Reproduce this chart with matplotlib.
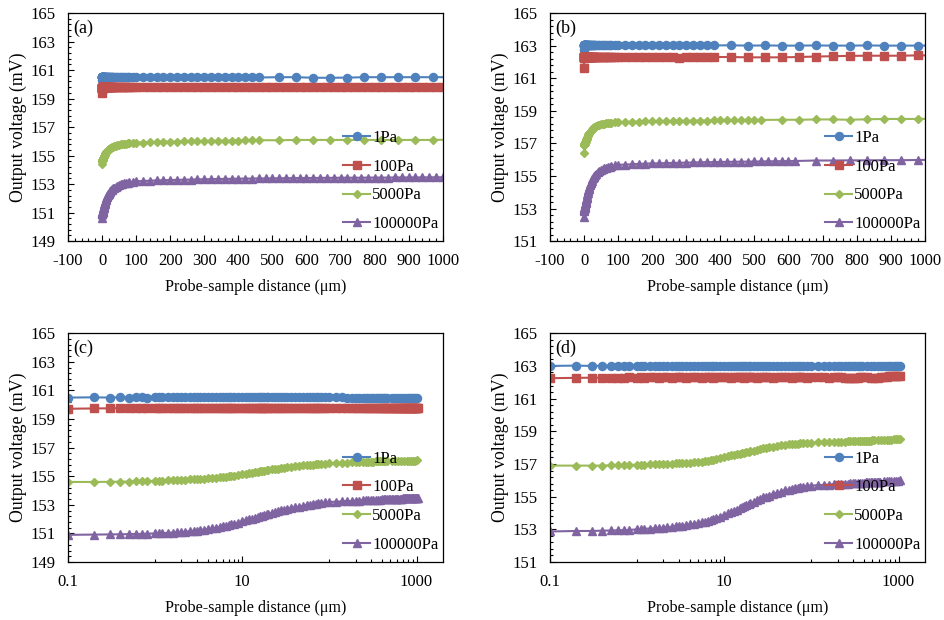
import matplotlib
matplotlib.use('Agg')
import matplotlib.pyplot as plt
from matplotlib.ticker import MultipleLocator, FixedLocator, FixedFormatter, NullFormatter
import numpy as np

plt.rcParams['font.family'] = ['Liberation Serif', 'DejaVu Serif']
plt.rcParams['axes.unicode_minus'] = False

# probe-sample distance samples (um)
X_NEAR = [0,
          0.1, 0.2, 0.3, 0.4, 0.5, 0.6, 0.7, 0.8,
          1, 1.1, 1.2, 1.4, 1.6, 1.8, 2, 2.2, 2.5, 2.8, 3, 3.3, 3.6, 4, 4.5,
          5, 5.5, 6, 6.5, 7, 7.5, 8, 9, 10,
          11, 12, 13, 14, 15, 16, 17, 18, 19, 20,
          22, 24, 26, 28, 30, 33, 36, 40, 45, 50, 55, 60,
          65, 70, 75, 80, 90, 100]
X_FAR = [120, 140, 160, 180, 200, 220, 240, 260, 280, 300,
         320, 340, 360, 380, 400, 420, 440, 460, 480, 500,
         520, 540, 560, 580, 600, 620, 640, 660, 680, 700,
         720, 740, 760, 780, 800, 820, 840, 860, 880, 900,
         920, 940, 960, 980, 1000, 1020, 1040]
TAIL_A = [520, 570, 620, 670, 720, 770, 820, 870, 920, 970, 1020]
TAIL_B_LOW = [430, 480, 530, 580, 630, 680, 730, 780, 830, 880, 930, 980, 1030]
TAIL_B_5000 = [580, 630, 680, 730, 780, 830, 880, 930, 980, 1030]
TAIL_B_1E5 = [680, 730, 780, 830, 880, 930, 980, 1030]

# ---- condition A: panels (a) and (c), output voltage (mV) ----
A_1PA = ([160.3,
          160.5, 160.52, 160.5, 160.52, 160.5, 160.51, 160.52, 160.5,
          160.52, 160.51, 160.53, 160.52, 160.52, 160.53, 160.51, 160.52, 160.53, 160.52,
          160.53, 160.52, 160.52, 160.53, 160.52,
          160.53, 160.52, 160.53, 160.52, 160.52, 160.53, 160.52, 160.53, 160.52,
          160.52, 160.53, 160.52, 160.53, 160.52, 160.52, 160.53, 160.52, 160.53, 160.52,
          160.53, 160.52, 160.52, 160.53, 160.52, 160.53, 160.52, 160.52, 160.53, 160.52,
          160.52, 160.53,
          160.52, 160.52, 160.53, 160.52, 160.52, 160.53]
         + [160.52, 160.51, 160.5, 160.5, 160.5, 160.49, 160.5, 160.5, 160.49,
            160.5, 160.5, 160.49, 160.5, 160.5, 160.49, 160.5, 160.48, 160.48]
         + [160.5, 160.5, 160.46, 160.46, 160.47, 160.5, 160.5, 160.5, 160.5,
            160.5, 160.5])
A_100PA = ([159.4,
            159.72, 159.74, 159.75, 159.76, 159.75, 159.76, 159.77, 159.76,
            159.77, 159.76, 159.77, 159.78, 159.77, 159.78, 159.77, 159.78, 159.78, 159.77,
            159.78, 159.78, 159.77, 159.78, 159.78,
            159.79, 159.78, 159.79, 159.78, 159.79, 159.78, 159.79, 159.79, 159.78,
            159.79, 159.79, 159.8, 159.79, 159.79, 159.8, 159.79, 159.8, 159.79, 159.8,
            159.79, 159.8, 159.79, 159.8, 159.79, 159.8, 159.79, 159.8, 159.79, 159.8,
            159.79, 159.8,
            159.79, 159.8, 159.79, 159.8, 159.79, 159.8]
           + [159.79, 159.8, 159.8, 159.79, 159.8, 159.8, 159.8, 159.79, 159.8, 159.8,
              159.8, 159.79, 159.8, 159.8, 159.8, 159.79, 159.8, 159.8, 159.8, 159.8,
              159.79, 159.8, 159.8, 159.8, 159.79, 159.8, 159.8, 159.8, 159.8, 159.79,
              159.8, 159.8, 159.8, 159.8, 159.79, 159.8, 159.8, 159.8, 159.78, 159.78,
              159.8, 159.8, 159.8, 159.8, 159.8, 159.8, 159.8])
A_5000PA = ([154.4,
             154.6, 154.6, 154.61, 154.62, 154.63, 154.64, 154.65, 154.66,
             154.68, 154.69, 154.7, 154.71, 154.72, 154.74, 154.75, 154.76, 154.78, 154.79,
             154.8, 154.82, 154.84, 154.86, 154.88,
             154.9, 154.93, 154.95, 154.98, 155.0, 155.03, 155.05, 155.1, 155.15,
             155.19, 155.23, 155.26, 155.3, 155.32, 155.35, 155.38, 155.4, 155.43, 155.45,
             155.48, 155.51, 155.54, 155.57, 155.6, 155.63, 155.66, 155.7, 155.73, 155.76,
             155.78, 155.8,
             155.82, 155.83, 155.85, 155.86, 155.88, 155.9]
            + [155.92, 155.94, 155.96, 155.97, 155.98, 155.99, 156.0, 156.0, 156.01,
               156.02, 156.03, 156.04, 156.05, 156.05, 156.06, 156.07, 156.07, 156.08]
            + [156.08, 156.1, 156.1, 156.1, 156.1, 156.1, 156.1, 156.1, 156.1,
               156.1, 156.12])
A_1E5PA = ([150.6,
            150.9, 150.92, 150.93, 150.94, 150.95, 150.96, 150.97, 150.98,
            151.0, 151.01, 151.02, 151.04, 151.06, 151.08, 151.1, 151.12, 151.15, 151.18,
            151.2, 151.23, 151.26, 151.3, 151.35,
            151.4, 151.45, 151.5, 151.55, 151.6, 151.64, 151.68, 151.75, 151.85,
            151.92, 151.98, 152.04, 152.1, 152.15, 152.2, 152.25, 152.3, 152.34, 152.38,
            152.45, 152.51, 152.56, 152.61, 152.65, 152.7, 152.75, 152.82, 152.88, 152.93,
            152.98, 153.02,
            153.05, 153.08, 153.11, 153.13, 153.17, 153.2]
           + [153.22, 153.24, 153.26, 153.27, 153.29, 153.3, 153.31, 153.32, 153.33, 153.34,
              153.35, 153.36, 153.37, 153.37, 153.38, 153.39, 153.39, 153.4, 153.4, 153.41,
              153.41, 153.42, 153.42, 153.43, 153.43, 153.43, 153.44, 153.44, 153.44, 153.45,
              153.45, 153.45, 153.45, 153.46, 153.46, 153.46, 153.46, 153.47, 153.47, 153.47,
              153.47, 153.47, 153.48, 153.48, 153.48, 153.48, 153.48])

# ---- condition B: panels (b) and (d) ----
B_1PA = ([162.75,
          163.0, 163.02, 163.0, 163.01, 163.02, 163.0, 163.01, 163.02,
          163.01, 163.02, 163.01, 163.02, 163.02, 163.01, 163.02, 163.02, 163.01, 163.02,
          163.02, 163.01, 163.02, 163.02, 163.01,
          163.02, 163.02, 163.01, 163.02, 163.02, 163.01, 163.02, 163.02, 163.01,
          163.02, 163.02, 163.01, 163.02, 163.02, 163.01, 163.02, 163.02, 163.01, 163.02,
          163.02, 163.01, 163.02, 163.02, 163.01, 163.02, 163.02, 163.01, 163.02, 163.02,
          163.01, 163.02,
          163.02, 163.01, 163.02, 163.02, 163.01, 163.02]
         + [163.02, 163.01, 163.02, 163.02, 163.01, 163.02, 163.02, 163.01, 163.02,
            163.02, 163.01, 163.02, 163.02, 163.01]
         + [163.02, 163.0, 163.01, 163.0, 163.0, 163.01, 163.0, 163.0, 163.01,
            163.0, 163.0, 163.0, 163.0])
B_100PA = ([161.6,
            162.25, 162.27, 162.28, 162.28, 162.29, 162.28, 162.29, 162.3,
            162.29, 162.3, 162.29, 162.3, 162.3, 162.29, 162.3, 162.3, 162.29, 162.3,
            162.3, 162.3, 162.29, 162.3, 162.3,
            162.3, 162.29, 162.3, 162.3, 162.3, 162.29, 162.3, 162.3, 162.3,
            162.3, 162.29, 162.3, 162.3, 162.3, 162.3, 162.29, 162.3, 162.3, 162.3,
            162.3, 162.29, 162.3, 162.3, 162.3, 162.3, 162.29, 162.3, 162.3, 162.3,
            162.3, 162.29,
            162.3, 162.3, 162.3, 162.3, 162.29, 162.3]
           + [162.3, 162.3, 162.29, 162.3, 162.3, 162.3, 162.29, 162.28, 162.27,
              162.28, 162.28, 162.29, 162.3, 162.3]
           + [162.3, 162.28, 162.28, 162.28, 162.3, 162.33, 162.35, 162.37, 162.38,
              162.38, 162.38, 162.4, 162.4])
B_5000PA = ([156.4,
             156.9, 156.9, 156.9, 156.9, 156.92, 156.93, 156.94, 156.94,
             156.95, 156.95, 156.96, 156.97, 156.98, 156.99, 157.0, 157.01, 157.02, 157.03,
             157.04, 157.05, 157.06, 157.08, 157.1,
             157.12, 157.15, 157.18, 157.21, 157.24, 157.27, 157.3, 157.36, 157.42,
             157.47, 157.52, 157.56, 157.6, 157.63, 157.66, 157.69, 157.72, 157.75, 157.77,
             157.82, 157.87, 157.92, 157.95, 157.98, 158.02, 158.06, 158.1, 158.14, 158.17,
             158.2, 158.22,
             158.24, 158.25, 158.26, 158.27, 158.29, 158.3]
            + [158.32, 158.33, 158.34, 158.35, 158.36, 158.37, 158.37, 158.38, 158.38, 158.39,
               158.39, 158.4, 158.4, 158.41, 158.41, 158.42, 158.42, 158.43, 158.43, 158.44,
               158.44]
            + [158.45, 158.45, 158.47, 158.47, 158.45, 158.48, 158.5, 158.5, 158.5, 158.52])
B_1E5PA = ([152.5,
            152.87, 152.9, 152.9, 152.92, 152.93, 152.94, 152.95, 152.96,
            153.0, 153.01, 153.03, 153.05, 153.07, 153.09, 153.1, 153.12, 153.15, 153.18,
            153.2, 153.23, 153.26, 153.3, 153.34,
            153.38, 153.43, 153.48, 153.53, 153.58, 153.63, 153.68, 153.78, 153.88,
            153.97, 154.05, 154.13, 154.2, 154.28, 154.35, 154.42, 154.48, 154.54, 154.6,
            154.7, 154.8, 154.88, 154.95, 155.0, 155.07, 155.14, 155.23, 155.31, 155.38,
            155.43, 155.48,
            155.52, 155.55, 155.58, 155.6, 155.65, 155.68]
           + [155.7, 155.72, 155.74, 155.76, 155.77, 155.78, 155.79, 155.8, 155.81, 155.82,
              155.83, 155.84, 155.85, 155.85, 155.86, 155.87, 155.87, 155.88, 155.88, 155.89,
              155.89, 155.9, 155.9, 155.91, 155.91, 155.92]
           + [155.95, 155.95, 155.96, 155.96, 155.97, 155.97, 155.98, 156.0])

LABELS = ['1Pa', '100Pa', '5000Pa', '100000Pa']
COLORS = ['#4F81BD', '#C0504D', '#9BBB59', '#8064A2']
MARKERS = [('o', 5.8), ('s', 5.6), ('D', 4.4), ('^', 6.2)]

SERIES_A = [(X_NEAR + X_FAR[:18] + TAIL_A, A_1PA),
            (X_NEAR + X_FAR, A_100PA),
            (X_NEAR + X_FAR[:18] + TAIL_A, A_5000PA),
            (X_NEAR + X_FAR, A_1E5PA)]
SERIES_B = [(X_NEAR + X_FAR[:14] + TAIL_B_LOW, B_1PA),
            (X_NEAR + X_FAR[:14] + TAIL_B_LOW, B_100PA),
            (X_NEAR + X_FAR[:21] + TAIL_B_5000, B_5000PA),
            (X_NEAR + X_FAR[:26] + TAIL_B_1E5, B_1E5PA)]


def panel(ax, series, logx, ylo, tag):
    for (x, y), lab, col, (mk, ms) in zip(series, LABELS, COLORS, MARKERS):
        x = np.asarray(x, float)
        y = np.asarray(y, float)
        if logx:
            keep = x > 0
            x, y = x[keep], y[keep]
        ax.plot(x, y, color=col, marker=mk, ms=ms, mec=col, lw=1.5, label=lab)

    if logx:
        ax.set_xscale('log')
        ax.set_xlim(0.1, 2000)
        ax.xaxis.set_major_locator(FixedLocator([0.1, 10, 1000]))
        ax.xaxis.set_major_formatter(FixedFormatter(['0.1', '10', '1000']))
        ax.xaxis.set_minor_locator(FixedLocator([1, 2, 3, 4, 5, 6, 7, 8, 9,
                                                 100, 200, 300, 400, 500, 600, 700, 800, 900]))
        ax.xaxis.set_minor_formatter(NullFormatter())
    else:
        ax.set_xlim(-100, 1000)
        ax.xaxis.set_major_locator(MultipleLocator(100))
        ax.xaxis.set_minor_locator(MultipleLocator(20))

    ax.set_ylim(ylo, 165)
    ax.yaxis.set_major_locator(MultipleLocator(2, offset=1))
    ax.yaxis.set_minor_locator(MultipleLocator(0.4, offset=0.2))

    ax.tick_params(which='both', direction='in', top=False, right=False,
                   labelsize=12, color='black', width=0.8)
    ax.tick_params(which='major', length=4)
    ax.tick_params(which='minor', length=2.5)
    ax.tick_params(axis='y', pad=9)
    ax.tick_params(axis='x', pad=8.5)
    for sp in ax.spines.values():
        sp.set_color('black')
        sp.set_linewidth(0.9)

    ax.set_xlabel('Probe-sample distance (\u03bcm)', fontsize=11.6)
    ax.set_ylabel('Output voltage (mV)', fontsize=12.8)
    ax.xaxis.set_label_coords(0.5, -0.165)
    ax.yaxis.set_label_coords(-0.108, 0.5)

    ax.text(0.014, 0.935, tag, transform=ax.transAxes, fontsize=13,
            ha='left', va='center')
    ax.legend(loc='upper left', bbox_to_anchor=(0.735, 0.487), frameon=False,
              fontsize=12, labelspacing=0.76, handlelength=1.6, handletextpad=0.12,
              borderpad=0, borderaxespad=0, numpoints=1)


fig = plt.figure(figsize=(9.44, 6.2), dpi=100)
ax_a = fig.add_axes([0.072, 0.611, 0.397, 0.368])
ax_b = fig.add_axes([0.5826, 0.611, 0.397, 0.368])
ax_c = fig.add_axes([0.072, 0.0935, 0.397, 0.369])
ax_d = fig.add_axes([0.5826, 0.0935, 0.397, 0.369])

panel(ax_a, SERIES_A, False, 149, '(a)')
panel(ax_b, SERIES_B, False, 151, '(b)')
panel(ax_c, SERIES_A, True, 149, '(c)')
panel(ax_d, SERIES_B, True, 151, '(d)')

fig.savefig('out.png', dpi=100)
